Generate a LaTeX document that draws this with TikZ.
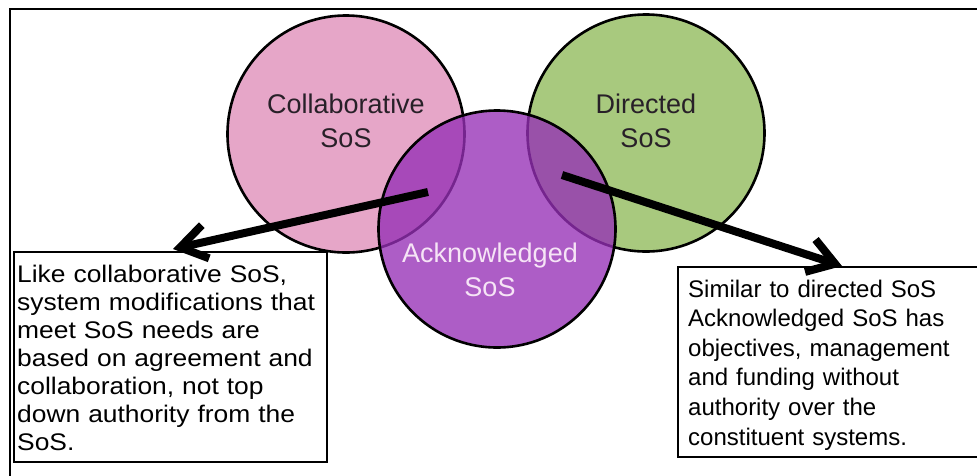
\documentclass[tikz,border=0pt]{standalone}
\usepackage{fontspec}
\setmainfont{Liberation Sans}
\newfontfamily\widefont[FakeStretch=1.1]{Liberation Sans}
\usetikzlibrary{arrows.meta}
\definecolor{pinkc}{RGB}{230,166,200}
\definecolor{greenc}{RGB}{168,201,126}
\definecolor{purplec}{RGB}{150,48,182}
\definecolor{darktext}{RGB}{40,32,40}
\definecolor{lighttext}{RGB}{246,228,246}
\begin{document}
\begin{tikzpicture}[x=1pt,y=-1pt,
  setcircle/.style={circle, draw=black, line width=2.6pt, inner sep=0pt, minimum size=237pt},
  circlabel/.style={anchor=base, inner sep=0pt, font=\fontsize{27}{32}\selectfont, text=darktext},
  acklabel/.style={anchor=base, inner sep=0pt, font=\fontsize{27}{32}\selectfont, text=lighttext},
  notebox/.style={draw=black, line width=1.8pt, inner sep=0pt, anchor=north west, fill=white},
  bigarrow/.style={line width=8pt, -{Straight Barb[length=26pt,width=34pt]}}
]
\useasboundingbox (0,0) rectangle (977,475);
\fill[white] (0,0) rectangle (977,475);
% outer frame
\draw[line width=2.5pt] (10,478) -- (10,9) -- (980,9);

% circles
\node[setcircle, fill=pinkc] (collab) at (346,134) {};
\node[setcircle, fill=greenc] (directed) at (646,133) {};
\node[setcircle, fill=purplec, fill opacity=0.78] (ack) at (497,229) {};

% circle labels
\node[circlabel] (collabA) at (346,113) {Collaborative};
\node[circlabel] (collabB) at (346,147) {SoS};
\node[circlabel] (dirA) at (646,113) {Directed};
\node[circlabel] (dirB) at (646,147) {SoS};
\node[acklabel] (ackA) at (490,262) {Acknowledged};
\node[acklabel] (ackB) at (490,296) {SoS};

% boxes
\node[notebox, minimum width=313pt, minimum height=210pt] (lbox) at (13,251) {};
\node[notebox, minimum width=310pt, minimum height=190pt] (rbox) at (677,266) {};

\node[anchor=north west, inner sep=0pt, text width=312pt, align=left,
      font=\widefont\fontsize{24}{28}\selectfont] (ltext) at (17,264.8)
  {Like collaborative SoS,\\system modifications that\\meet SoS needs are\\based on agreement and\\collaboration, not top\\down authority from the\\SoS.};
\node[anchor=north west, inner sep=0pt, text width=285pt, align=left,
      font=\fontsize{24}{29.6}\selectfont] (rtext) at (688,279.6)
  {Similar to directed SoS\\Acknowledged SoS has\\objectives, management\\and funding without\\authority over the\\constituent systems.};

% arrows
\coordinate (lstart) at (428,192);
\coordinate (ltip) at (173,249);
\coordinate (rstart) at (562,175);
\coordinate (rtip) at (842,266);
\draw[bigarrow] (lstart) -- (ltip);
\draw[bigarrow] (rstart) -- (rtip);
\end{tikzpicture}
\end{document}
